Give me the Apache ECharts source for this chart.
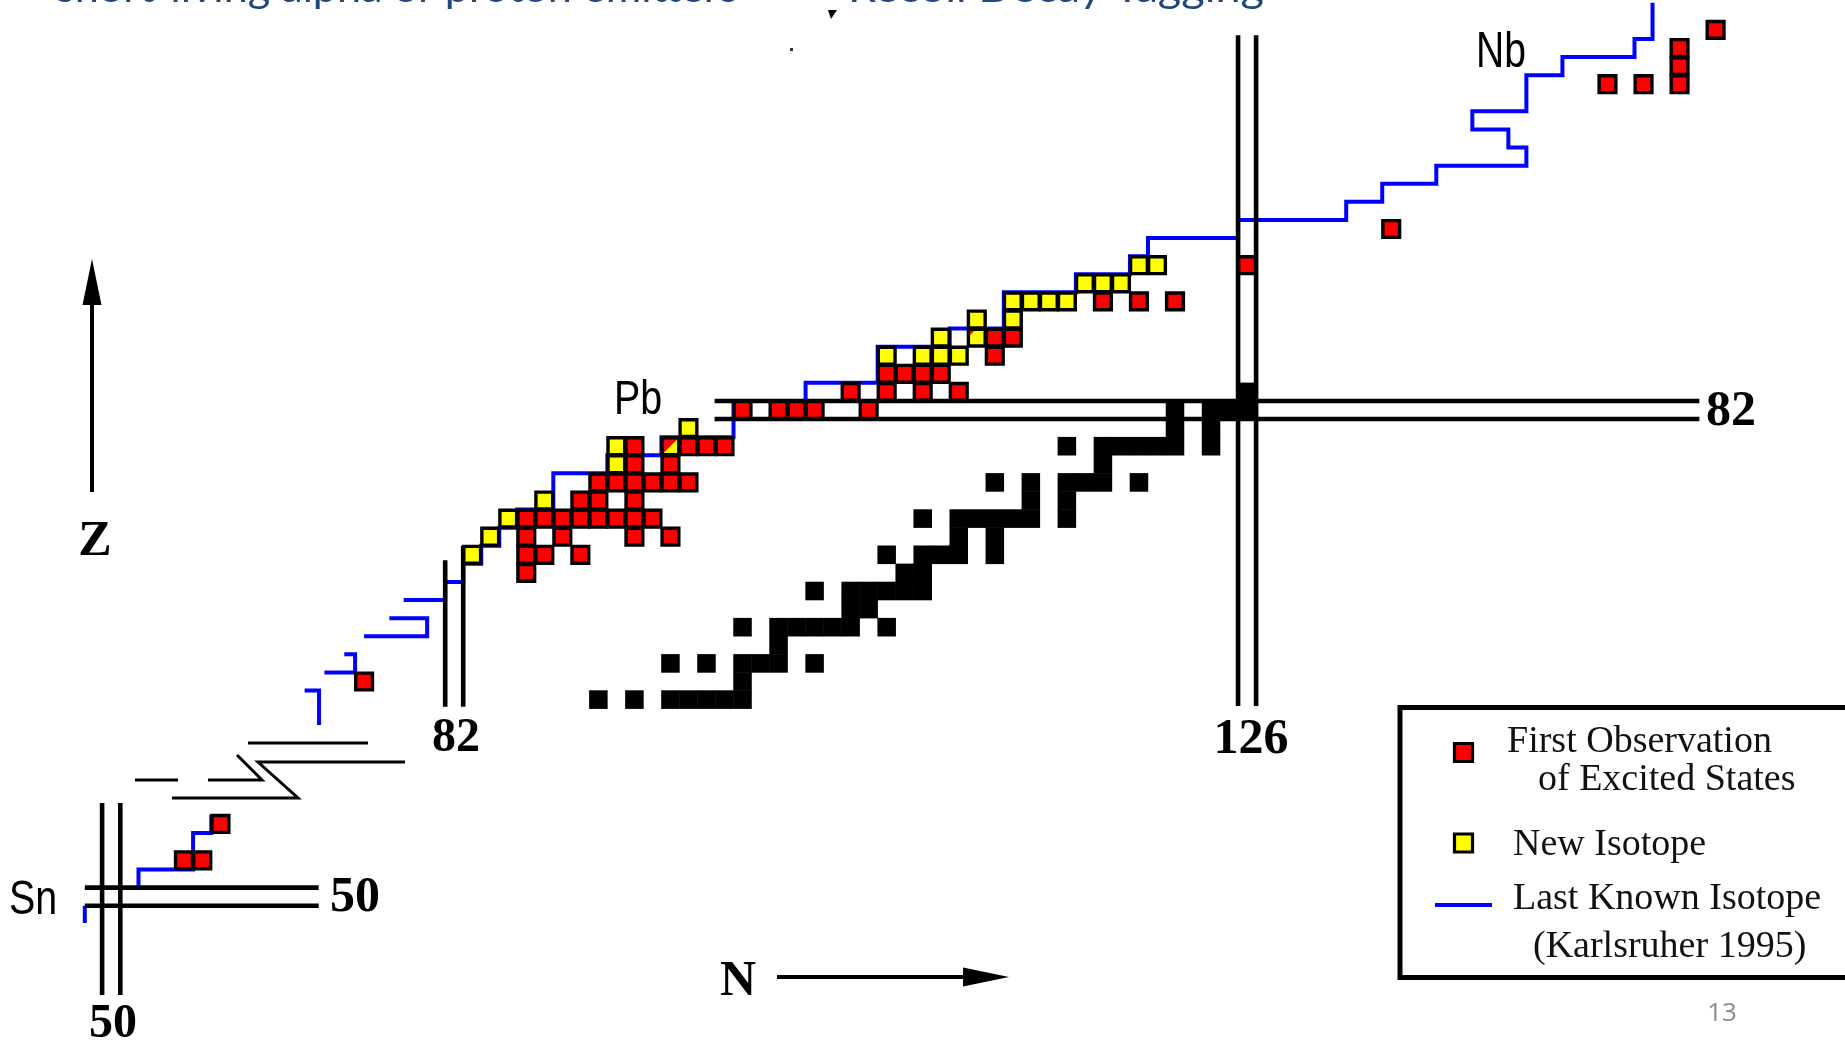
<!DOCTYPE html>
<html><head><meta charset="utf-8">
<script src="https://cdn.jsdelivr.net/npm/echarts/dist/echarts.min.js"></script>
<style>html,body{margin:0;padding:0;background:#fff;overflow:hidden}#chart{width:1845px;height:1044px}</style>
</head><body><div id="chart"></div>
<script>
// ---------------- DATA (N = neutron number, Z = proton number) ----------------
// Stable nuclides (black squares), one list of N per Z
const stableZ = [66, 67, 68, 69, 70, 71, 72, 73, 74, 75, 76, 77, 78, 79, 80, 81, 82, 83];
const stableN = [
  [90, 92, 94, 95, 96, 97, 98], [98], [94, 96, 98, 99, 100, 102], [100],
  [98, 100, 101, 102, 103, 104, 106], [104, 105], [102, 104, 105, 106, 107, 108], [107, 108],
  [106, 108, 109, 110, 112], [110, 112], [108, 110, 111, 112, 113, 114, 116], [114, 116],
  [112, 114, 116, 117, 118, 120], [118], [116, 118, 119, 120, 121, 122, 124], [122, 124],
  [122, 124, 125, 126], [126]
];
// First observation of excited states (red)
const redZ = [67, 73, 74, 75, 76, 77, 78, 79, 80, 82, 83, 84, 85, 86, 88, 90, 92, 100, 101, 102, 103];
const redN = [
  [77], [86], [86, 87, 89], [86, 88, 92, 94], [86, 87, 88, 89, 90, 91, 92, 93], [89, 90, 92],
  [90, 91, 92, 93, 94, 95], [92, 94], [92, 95, 96, 97], [98, 100, 101, 102, 105],
  [104, 106, 108, 110], [106, 107, 108, 109], [112], [112, 113], [118, 120, 122], [126], [134],
  [146, 148, 150], [150], [150], [152]
];
// New isotopes (yellow)
const yellowZ = [74, 75, 76, 77, 79, 80, 81, 85, 86, 87, 88, 89, 90];
const yellowN = [[83], [84], [85], [87], [91], [91], [95], [106, 108, 109, 110], [109], [111, 113],
  [113, 114, 115, 116], [117, 118, 119], [120, 121]];
// Cells that are both (red triangle over yellow); fraction = red share of the diagonal
const mixedN = [94, 111];
const mixedZ = [80, 86];
const mixedRedFraction = [1.0, 0.45];
// Sn region (separate panel)
const snRedN = [54, 55, 56];
const snRedZ = [52, 52, 54];
// Last known isotope (Karlsruher 1995), boundary vertices [N, Z]
const lastKnownMain = [
  [[73.7, 66.5], [74.5, 66.5], [74.5, 64.6]],
  [[74.8, 67.5], [76.5, 67.5], [76.5, 68.5], [75.9, 68.5]],
  [[77.0, 69.5], [80.5, 69.5], [80.5, 70.5], [78.4, 70.5]],
  [[79.2, 71.5], [81.5, 71.5], [81.5, 72.5], [82.5, 72.5], [82.5, 73.5], [83.5, 73.5], [83.5, 74.5],
   [84.5, 74.5], [84.5, 75.5], [85.5, 75.5], [85.5, 76.5], [87.5, 76.5], [87.5, 78.5], [90.5, 78.5],
   [90.5, 79.5], [93.5, 79.5], [93.5, 80.5], [97.5, 80.5], [97.5, 82.5], [101.5, 82.5], [101.5, 83.5],
   [105.5, 83.5], [105.5, 85.5], [109.5, 85.5], [109.5, 86.5], [112.5, 86.5], [112.5, 88.5],
   [116.5, 88.5], [116.5, 89.5], [119.5, 89.5], [119.5, 90.5], [120.5, 90.5], [120.5, 91.5],
   [125.5, 91.5], [125.5, 92.5], [131.5, 92.5], [131.5, 93.5], [133.5, 93.5], [133.5, 94.5],
   [136.5, 94.5], [136.5, 95.5], [141.5, 95.5], [141.5, 96.5], [140.5, 96.5], [140.5, 97.5],
   [138.5, 97.5], [138.5, 98.5], [141.5, 98.5], [141.5, 100.5], [143.5, 100.5], [143.5, 101.5],
   [147.5, 101.5], [147.5, 102.5], [148.5, 102.5], [148.5, 104.5]]
];
const lastKnownSn = [
  [[51.5, 50.5], [51.5, 51.5], [54.5, 51.5], [54.5, 53.5], [55.5, 53.5], [55.5, 54.5]],
  [[48.55, 49.5], [48.55, 48.55]]
];
// Magic numbers
const magicMainN = [82, 126];
const magicMainZ = [82];
const magicSn = 50;
const tickLabels = { z82: '82', n82: '82', n126: '126', z50: '50', n50: '50' };
const elementLabels = ['Pb', 'Sn', 'Nb'];
const legendLabels = ['First Observation', 'of Excited States', 'New Isotope', 'Last Known Isotope', '(Karlsruher 1995)'];
const titleParts = ['short-living alpha or proton emitters', 'Recoil Decay Tagging'];

// ---------------- BUILD ----------------
function cells(zs, ns) { const out = []; zs.forEach((z, i) => ns[i].forEach(n => out.push([n, z]))); return out; }
const stableData = cells(stableZ, stableN);
const redData = cells(redZ, redN);
const yellowData = cells(yellowZ, yellowN);
const mixedData = mixedN.map((n, i) => [n, mixedZ[i], mixedRedFraction[i]]);
const snRedData = snRedN.map((n, i) => [n, snRedZ[i]]);

const RED = '#ff0000', YEL = '#ffff00', BLUE = '#0000ff';
const CELL_K = 0.93, CELL_LW = 3.4;

function boxRender(fill) {
  return function (params, api) {
    const c = api.coord([api.value(0), api.value(1)]);
    const s = api.size([1, 1]);
    const w = s[0] * CELL_K, h = s[1] * CELL_K;
    return { type: 'rect', shape: { x: c[0] - w / 2, y: c[1] - h / 2, width: w, height: h },
      style: { fill: fill, stroke: '#000', lineWidth: CELL_LW } };
  };
}
function blackRender(params, api) {
  const c = api.coord([api.value(0), api.value(1)]);
  const s = api.size([1, 1]);
  const w = s[0] + 0.5, h = s[1] + 0.5;
  return { type: 'rect', shape: { x: c[0] - w / 2, y: c[1] - h / 2, width: w, height: h }, style: { fill: '#000' } };
}
function mixedRender(params, api) {
  const c = api.coord([api.value(0), api.value(1)]);
  const s = api.size([1, 1]);
  const f = api.value(2);
  const w = s[0] * CELL_K, h = s[1] * CELL_K;
  const x0 = c[0] - w / 2, y0 = c[1] - h / 2;
  return { type: 'group', children: [
    { type: 'rect', shape: { x: x0, y: y0, width: w, height: h }, style: { fill: YEL } },
    { type: 'polygon', shape: { points: [[x0, y0], [x0 + f * w, y0], [x0, y0 + f * h]] }, style: { fill: RED } },
    { type: 'rect', shape: { x: x0, y: y0, width: w, height: h }, style: { fill: 'none', stroke: '#000', lineWidth: CELL_LW } }
  ] };
}

const series = [];
function lineSeries(pts, gi, color, width, z) {
  series.push({ type: 'line', xAxisIndex: gi, yAxisIndex: gi, data: pts, symbol: 'none', showSymbol: false,
    silent: true, clip: false, z: z, animation: false, lineStyle: { color: color, width: width, cap: 'butt', join: 'miter' } });
}
lastKnownMain.forEach(seg => lineSeries(seg, 0, BLUE, 4, 1));
lastKnownSn.forEach(seg => lineSeries(seg, 1, BLUE, 4, 1));

// magic-number double lines (boundaries at magic +/- 0.5)
const MW = 4.6;
const n82 = magicMainN[0], n126 = magicMainN[1], z82 = magicMainZ[0];
lineSeries([[n82 - 0.5, 65.6], [n82 - 0.5, 73.7]], 0, '#000', MW, 2);
lineSeries([[n82 + 0.5, 65.6], [n82 + 0.5, 74.5]], 0, '#000', MW, 2);
[n126 - 0.5, n126 + 0.5].forEach(v => lineSeries([[v, 65.65], [v, 102.7]], 0, '#000', MW, 2));
[z82 + 0.5, z82 - 0.5].forEach(v => lineSeries([[96.45, v], [151.1, v]], 0, '#000', MW, 2));
[magicSn + 0.5, magicSn - 0.5].forEach(v => lineSeries([[48.55, v], [61.4, v]], 1, '#000', MW, 2));
[magicSn - 0.5, magicSn + 0.5].forEach(v => lineSeries([[v, 44.6], [v, 55.15]], 1, '#000', MW, 2));

series.push({ type: 'custom', xAxisIndex: 0, yAxisIndex: 0, data: stableData, renderItem: blackRender, z: 3, silent: true, animation: false, clip: false, encode: { x: 0, y: 1 } });
series.push({ type: 'custom', xAxisIndex: 0, yAxisIndex: 0, data: redData, renderItem: boxRender(RED), z: 4, silent: true, animation: false, clip: false, encode: { x: 0, y: 1 } });
series.push({ type: 'custom', xAxisIndex: 0, yAxisIndex: 0, data: yellowData, renderItem: boxRender(YEL), z: 4, silent: true, animation: false, clip: false, encode: { x: 0, y: 1 } });
series.push({ type: 'custom', xAxisIndex: 0, yAxisIndex: 0, data: mixedData, renderItem: mixedRender, z: 4, silent: true, animation: false, clip: false, encode: { x: 0, y: 1 } });
series.push({ type: 'custom', xAxisIndex: 1, yAxisIndex: 1, data: snRedData, renderItem: boxRender(RED), z: 4, silent: true, animation: false, clip: false, encode: { x: 0, y: 1 } });

// ---------------- GRAPHICS (labels, arrows, legend) ----------------
const SERIF = '"Liberation Serif","Times New Roman",serif';
const SANS = '"Liberation Sans",Arial,sans-serif';
function txt(t, x, y, size, opts) {
  opts = opts || {};
  return { type: 'text', x: x, y: y, scaleX: opts.scaleX || 1, z: 20, silent: true,
    style: { text: t, x: 0, y: 0, fontSize: size, fontFamily: opts.family || SERIF, fontWeight: opts.weight || 'normal',
      fill: opts.color || '#000', align: opts.align || 'center', verticalAlign: 'middle' } };
}
const mctx = document.createElement('canvas').getContext('2d');
function fitScale(t, size, family, target) { mctx.font = size + 'px ' + family; return target / mctx.measureText(t).width; }

const TITLE_FONT = 'Lato,"Noto Sans",sans-serif';
const TITLE_SIZE = 40;
const DY = 3.5; // baseline correction for serif labels
const graphic = [
  txt(titleParts[0], 56, -10.5, TITLE_SIZE, { family: TITLE_FONT, color: '#1F497D', align: 'left', scaleX: fitScale(titleParts[0], TITLE_SIZE, TITLE_FONT, 682) }),
  txt(titleParts[1], 848, -10.5, TITLE_SIZE, { family: TITLE_FONT, color: '#1F497D', align: 'left', scaleX: fitScale(titleParts[1], TITLE_SIZE, TITLE_FONT, 416) }),
  { type: 'polygon', silent: true, z: 20, shape: { points: [[828, 10], [837, 10], [831, 19]] }, style: { fill: '#000' } },
  { type: 'rect', silent: true, z: 20, shape: { x: 790, y: 48, width: 3, height: 3 }, style: { fill: '#333' } },

  // tick labels (magic numbers)
  txt(tickLabels.z82, 1731, 411 + 1, 50, { weight: 'bold' }),
  txt(tickLabels.n82, 456, 735 + DY, 48, { weight: 'bold' }),
  txt(tickLabels.n126, 1251, 738 + 2.5, 50, { weight: 'bold' }),
  txt(tickLabels.z50, 355, 895 + DY, 50, { weight: 'bold' }),
  txt(tickLabels.n50, 113, 1020 + 5, 48, { weight: 'bold' }),
  // axis names + arrows
  txt('Z', 95, 539 + DY, 50, { weight: 'bold' }),
  txt('N', 738, 979 + DY, 50, { weight: 'bold' }),
  { type: 'line', silent: true, z: 20, shape: { x1: 92, y1: 492, x2: 92, y2: 300 }, style: { stroke: '#000', lineWidth: 4 } },
  { type: 'polygon', silent: true, z: 20, shape: { points: [[92, 259], [82.5, 305], [101.5, 305]] }, style: { fill: '#000' } },
  { type: 'line', silent: true, z: 20, shape: { x1: 777, y1: 977, x2: 966, y2: 977 }, style: { stroke: '#000', lineWidth: 4 } },
  { type: 'polygon', silent: true, z: 20, shape: { points: [[1009, 977], [963, 967.5], [963, 986.5]] }, style: { fill: '#000' } },
  // element labels
  txt(elementLabels[0], 638, 401, 48, { family: SANS, scaleX: 0.82 }),
  txt(elementLabels[1], 33, 901, 48, { family: SANS, scaleX: 0.82 }),
  txt(elementLabels[2], 1501, 53, 50, { family: SANS, scaleX: 0.78 }),
  // axis-break marks
  { type: 'polyline', silent: true, z: 20, shape: { points: [[248, 743], [368, 743]] }, style: { stroke: '#000', lineWidth: 3, fill: null } },
  { type: 'polyline', silent: true, z: 20, shape: { points: [[405, 762], [258, 762], [298, 798], [172, 798]] }, style: { stroke: '#000', lineWidth: 3, fill: null } },
  { type: 'polyline', silent: true, z: 20, shape: { points: [[237, 755], [262, 780], [208, 780]] }, style: { stroke: '#000', lineWidth: 3, fill: null } },
  { type: 'polyline', silent: true, z: 20, shape: { points: [[135, 780], [178, 780]] }, style: { stroke: '#000', lineWidth: 3, fill: null } },
  // legend
  { type: 'rect', silent: true, z: 20, shape: { x: 1400, y: 707.5, width: 480, height: 270 }, style: { fill: '#fff', stroke: '#000', lineWidth: 5 } },
  { type: 'rect', silent: true, z: 21, shape: { x: 1454.5, y: 743.5, width: 18, height: 18 }, style: { fill: RED, stroke: '#000', lineWidth: 3.2 } },
  { type: 'rect', silent: true, z: 21, shape: { x: 1454.5, y: 834, width: 18, height: 18 }, style: { fill: YEL, stroke: '#000', lineWidth: 3.2 } },
  { type: 'line', silent: true, z: 21, shape: { x1: 1435, y1: 905, x2: 1492, y2: 905 }, style: { stroke: BLUE, lineWidth: 4 } },
  txt(legendLabels[0], 1507, 751 - 9.3, 38, { align: 'left', color: '#111' }),
  txt(legendLabels[1], 1538, 789 - 9.3, 38, { align: 'left', color: '#111' }),
  txt(legendLabels[2], 1513, 854 - 9.3, 38, { align: 'left', color: '#111' }),
  txt(legendLabels[3], 1513, 908 - 9.3, 38, { align: 'left', color: '#111' }),
  txt(legendLabels[4], 1533, 956 - 9.3, 38, { align: 'left', color: '#111' }),
  // page number
  txt('13', 1722, 1014, 26, { family: '"Open Sans",sans-serif', color: '#8c8c8c' })
];

const option = {
  backgroundColor: '#fff',
  animation: false,
  grid: [
    { left: 3.7, top: 2.75, width: 1838.04, height: 769.25, containLabel: false },
    { left: 2.0, top: 787.5, width: 327.6, height: 218.4, containLabel: false }
  ],
  xAxis: [
    { type: 'value', gridIndex: 0, min: 57, max: 159, show: false },
    { type: 'value', gridIndex: 1, min: 44, max: 62, show: false }
  ],
  yAxis: [
    { type: 'value', gridIndex: 0, min: 62, max: 104.5, show: false },
    { type: 'value', gridIndex: 1, min: 44, max: 56, show: false }
  ],
  series: series,
  graphic: { elements: graphic }
};
const chart = echarts.init(document.getElementById('chart'), null, { renderer: 'canvas', width: 1845, height: 1044 });
chart.setOption(option);
</script></body></html>
